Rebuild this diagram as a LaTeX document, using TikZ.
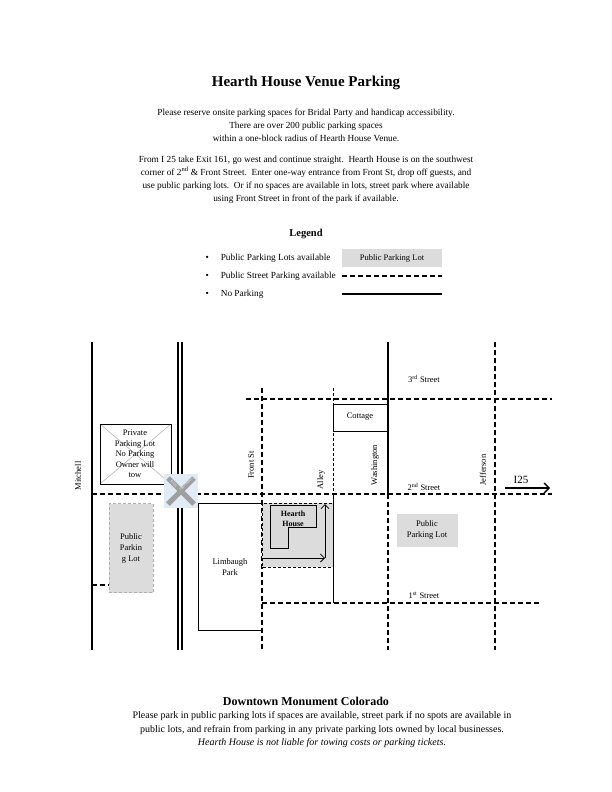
\documentclass[tikz,border=0pt]{standalone}
\usepackage{fontspec}
\setmainfont{Liberation Serif}
\usetikzlibrary{arrows.meta, positioning, shapes}
\definecolor{lotgray}{RGB}{220,220,220}
\definecolor{railblue}{RGB}{225,235,245}

\begin{document}
\begin{tikzpicture}[x=1pt,y=-1pt,
  street/.style={dashed, line width=1.4pt, dash pattern=on 5pt off 3pt},
  alley/.style={dashed, line width=0.8pt, dash pattern=on 3pt off 2pt},
  noparking/.style={line width=1.6pt},
  body/.style={font=\fontsize{9.3}{13}\selectfont, align=center},
  lot/.style={fill=lotgray, draw=lotgray!80!black, densely dashed, font=\fontsize{8.5}{11}\selectfont, align=center},
  label/.style={font=\fontsize{8.5}{11}\selectfont},
  vlabel/.style={font=\fontsize{8.5}{11}\selectfont, rotate=90},
  railtext/.style={font=\fontsize{3.5}{4}\selectfont, text=white, inner sep=0pt}]
\useasboundingbox (0,0) rectangle (612,792);

% Header
\node[font=\fontsize{15}{18}\selectfont\bfseries] (title) at (306,83) {Hearth House Venue Parking};
\node[body] (intro) at (306,125)
  {Please reserve onsite parking spaces for Bridal Party and handicap accessibility.\\
   There are over 200 public parking spaces\\
   within a one-block radius of Hearth House Venue.};
\node[body] (route) at (306,180)
  {From I 25 take Exit 161, go west and continue straight.\ \ Hearth House is on the southwest\\
   corner of 2\textsuperscript{nd} \& Front Street.\ \ Enter one-way entrance from Front St, drop off guests, and\\
   use public parking lots.\ \ Or if no spaces are available in lots, street park where available\\
   using Front Street in front of the park if available.};

% Legend
\node[font=\fontsize{10.5}{12}\selectfont\bfseries] (legend) at (306,234) {Legend};
\node[body, anchor=west] (l1) at (202,258) {\textbullet\hspace{12pt}Public Parking Lots available};
\node[body, anchor=west] (l2) at (202,276) {\textbullet\hspace{12pt}Public Street Parking available};
\node[body, anchor=west] (l3) at (202,294) {\textbullet\hspace{12pt}No Parking};
\node[fill=lotgray, minimum width=100pt, minimum height=18pt, label] (lk1) at (392,258) {Public Parking Lot};
\draw[street] (342,276) -- (442,276);
\draw[noparking] (342,294) -- (442,294);

% Map: streets
\draw[noparking] (92,342) -- (92,650);
\draw[line width=1.2pt] (178,342) -- (178,475) (178,505) -- (178,650);
\draw[line width=1.2pt] (182,342) -- (182,475) (182,505) -- (182,650);
\draw[street] (92,494) -- (168,494) (196,494) -- (552,494);
\draw[street] (246,399) -- (552,399);
\draw[street] (262,388) -- (262,650);
\draw[street] (262,603) -- (540,603);
\draw[alley] (333,388) -- (333,494);
\draw[noparking] (388,342) -- (388,494);
\draw[street] (388,494) -- (388,650);
\draw[street] (495,342) -- (495,650);
\draw[street] (92,585) -- (109,585);

% Map: buildings and lots
\draw (333,404) rectangle (388,431);
\node[label] (cottage) at (360,417) {Cottage};
\draw (198,503) -- (262,503) (198,503) -- (198,630) -- (262,630);
\draw (333,494) -- (333,603);
\node[label, align=center] (park) at (230,567) {Limbaugh\\Park};
\draw[lotgray!60!gray, line width=0.6pt] (100,424) -- (171,484) (171,424) -- (100,484);
\draw[line width=0.9pt] (100,424) rectangle (171,484);
\node[font=\fontsize{8.5}{10.5}\selectfont, align=center] (private) at (135,454) {Private\\Parking Lot\\No Parking\\Owner will\\tow};
\node[lot, minimum width=44pt, minimum height=89pt] (lotwest) at (131,548) {Public\\Parkin\\g Lot};
\node[lot, draw=none, minimum width=61pt, minimum height=33pt] (loteast) at (427,530) {Public\\Parking Lot};
\draw[alley, fill=lotgray] (262,503) rectangle (333,567);
\draw[fill=lotgray!70!gray!60] (270,505) -- (316,505) -- (316,527) -- (288,527) -- (288,548) -- (270,548) -- cycle;
\node[font=\fontsize{8}{10}\selectfont\bfseries, align=center] (house) at (293,519) {Hearth\\House};
\coordinate (drop) at (262,558);
\coordinate (turn) at (325,558);
\coordinate (exit) at (325,504);
\draw[-{Straight Barb[length=4pt]}, line width=0.8pt] (drop) -- (turn);
\draw[-{Straight Barb[length=4pt]}, line width=0.8pt] (turn) -- (exit);

% Rail crossing
\fill[railblue] (164,474) rectangle (198,508);
\draw[gray!75, line width=5pt] (168,478) -- (194,504);
\draw[gray!75, line width=5pt] (168,504) -- (194,478);
\node[railtext, rotate=-45] (rail) at (174,484) {RAIL};
\node[railtext, rotate=45] (crossing) at (186,484) {CROSSING};

% Street names
\node[vlabel] (mitchell) at (78,476) {Mitchell};
\node[vlabel] (front) at (251,465) {Front St};
\node[vlabel] (alleyname) at (321,480) {Alley};
\node[vlabel] (washington) at (375,465) {Washington};
\node[vlabel] (jefferson) at (483,470) {Jefferson};
\node[label] (third) at (424,379) {3\textsuperscript{rd} Street};
\node[label] (second) at (424,487) {2\textsuperscript{nd} Street};
\node[label] (first) at (424,595) {1\textsuperscript{st} Street};
\node[font=\fontsize{11}{12}\selectfont] (itf) at (521,480) {I25};
\coordinate (iwest) at (505,488);
\coordinate (ieast) at (550,488);
\draw[-{Straight Barb[length=5pt]}, line width=1.4pt] (iwest) -- (ieast);

% Footer
\node[font=\fontsize{12}{14}\selectfont\bfseries] (town) at (306,701) {Downtown Monument Colorado};
\node[font=\fontsize{10}{13.5}\selectfont, align=center] (note) at (322,730)
  {Please park in public parking lots if spaces are available, street park if no spots are available in\\
   public lots, and refrain from parking in any private parking lots owned by local businesses.\\
   \textit{Hearth House is not liable for towing costs or parking tickets.}};
\end{tikzpicture}
\end{document}
